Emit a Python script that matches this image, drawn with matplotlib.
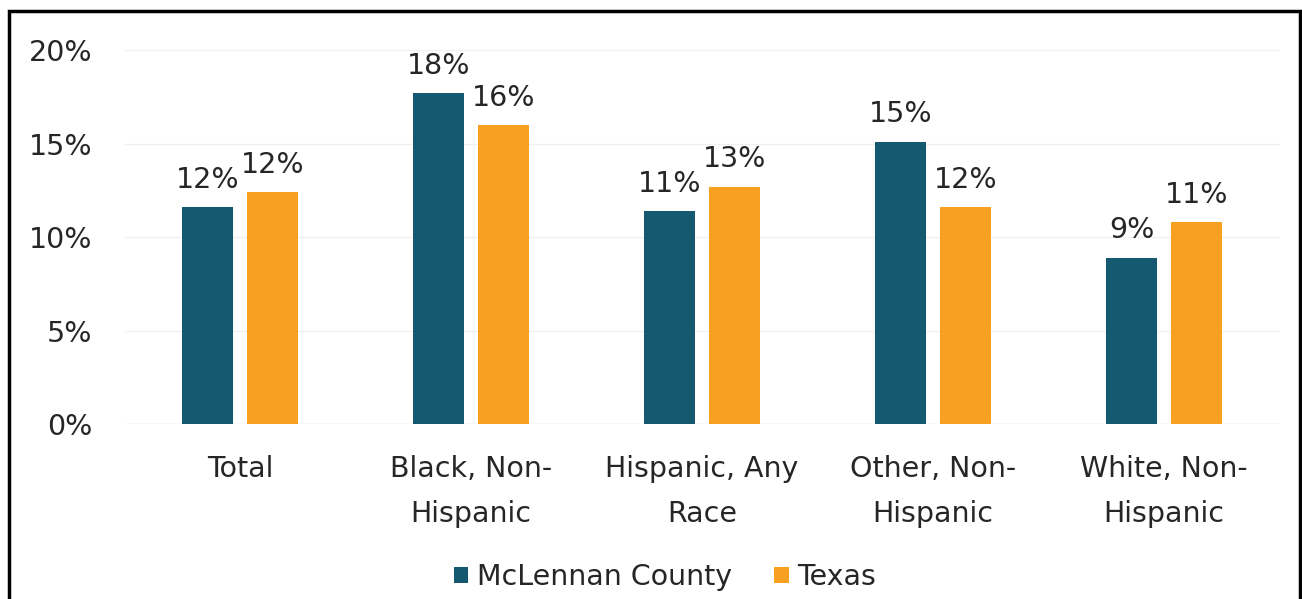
import numpy as np
import matplotlib.pyplot as plt
from matplotlib.patches import Rectangle

categories = ["Total", "Black, Non-\nHispanic", "Hispanic, Any\nRace",
              "Other, Non-\nHispanic", "White, Non-\nHispanic"]
mclennan = [11.6, 17.7, 11.4, 15.1, 8.9]
texas = [12.4, 16.0, 12.7, 11.6, 10.8]
series_names = ["McLennan County", "Texas"]
yticks = [0, 5, 10, 15, 20]

teal = "#14596f"
orange = "#f7a021"
text_color = "#262626"
fs = 20.5

plt.rcParams['font.family'] = ['DejaVu Sans']

fig = plt.figure(figsize=(13.02, 5.99), dpi=100)
W, H = 1302, 599
ax = fig.add_axes([124.5 / W, (H - 424) / H, 1155 / W, 374 / H])

x = np.arange(len(categories))
width = 0.221
gap = 0.06
b1 = ax.bar(x - (width + gap) / 2, mclennan, width, color=teal, label=series_names[0], zorder=3)
b2 = ax.bar(x + (width + gap) / 2, texas, width, color=orange, label=series_names[1], zorder=3)

for bars, vals in ((b1, mclennan), (b2, texas)):
    for rect, v in zip(bars, vals):
        ax.annotate(f"{v:.0f}%", (rect.get_x() + rect.get_width() / 2, v),
                    xytext=(0, 9.5), textcoords="offset points",
                    ha="center", va="bottom", fontsize=fs, color=text_color)

ax.set_xlim(-0.5, len(categories) - 0.5)
ax.set_ylim(0, 20)
ax.set_yticks(yticks)
ax.set_yticklabels([f"{t}%" for t in yticks])
ax.set_xticks(x)
ax.set_xticklabels(categories, linespacing=1.75)
ax.tick_params(axis="both", length=0, labelsize=fs, colors=text_color)
ax.tick_params(axis="y", pad=23)
ax.tick_params(axis="x", pad=22.5)
ax.grid(axis="y", color="#f0f0f0", linewidth=1, zorder=0)
for s in ax.spines.values():
    s.set_visible(False)
ax.axhline(0, color="#e6e6e6", linewidth=1, zorder=1)

leg = fig.legend(loc="center", bbox_to_anchor=(665 / W, (H - 577) / H), ncol=2,
                 frameon=False, fontsize=fs, handlelength=0.5, handleheight=0.5,
                 handletextpad=0.3, columnspacing=1.5)
for t in leg.get_texts():
    t.set_color(text_color)

# outer frame around the whole graphic
fig.patches.append(Rectangle((9 / W, -0.01), (1300 - 9) / W, (H - 11) / H + 0.01,
                             transform=fig.transFigure, fill=False,
                             edgecolor="black", linewidth=2.5))

fig.savefig("out.png", dpi=100)
